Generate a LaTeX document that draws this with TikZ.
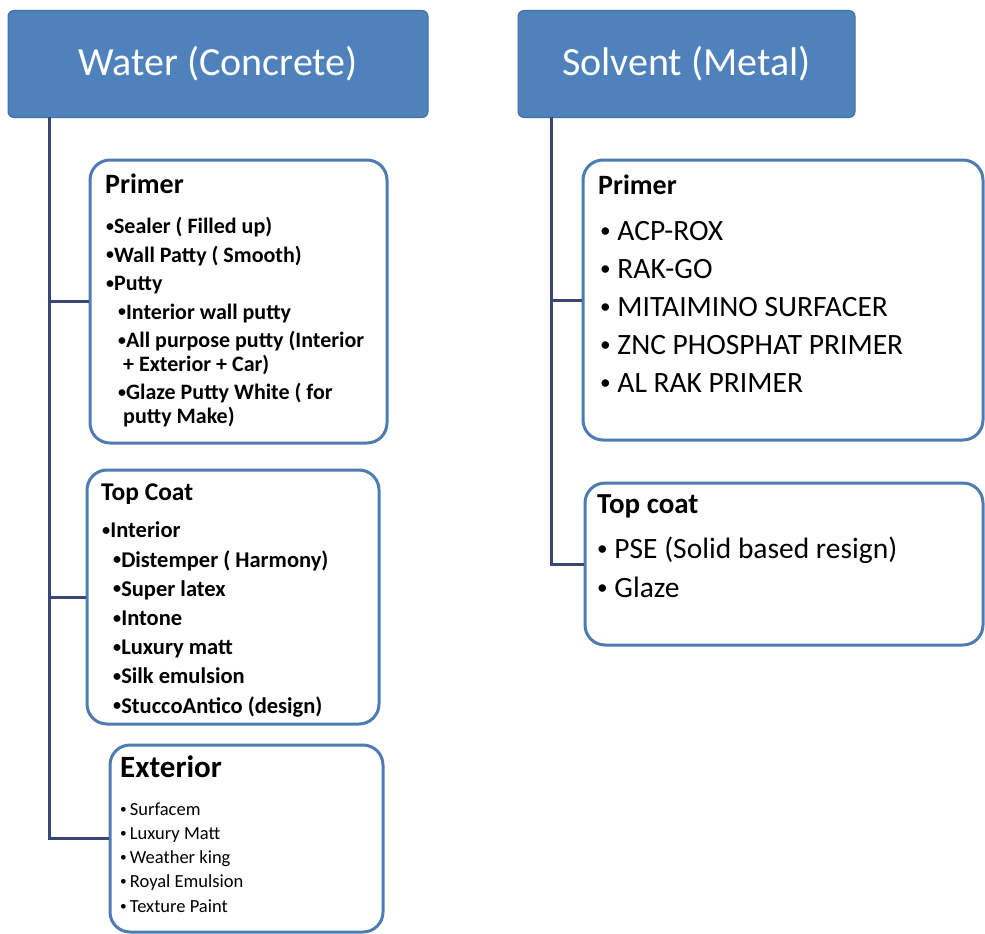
\documentclass[tikz,border=0pt]{standalone}
\usepackage{fontspec}
\setmainfont{Carlito}
\usepackage{graphicx}
\usepackage{tikz}
\usetikzlibrary{calc}
\definecolor{hdrblue}{RGB}{79,129,189}
\definecolor{boxblue}{RGB}{78,124,178}
\definecolor{linenavy}{RGB}{58,70,118}
\newcommand{\dotb}{\raisebox{0.1em}{\scalebox{0.72}{•}}}
\tikzset{
  hdr/.style={shape=rectangle, rounded corners=6pt, minimum height=107pt, inner sep=0pt, fill=hdrblue, draw=hdrblue!85!black, line width=1pt, text=white, font=\fontsize{40}{48}\selectfont},
  box/.style={shape=rectangle, rounded corners=20pt, line width=3pt, draw=boxblue, fill=white},
  link/.style={line width=3pt, draw=linenavy},
  ttl/.style={anchor=base west, inner sep=0pt, font=\bfseries\fontsize{28}{32}\selectfont},
  lst/.style={anchor=base west, inner sep=0pt, align=left},
}

\begin{document}
\begin{tikzpicture}[x=1pt,y=-1pt]
\useasboundingbox (0,0) rectangle (985,934);
\node[hdr, minimum width=420pt] (water) at (218,64) {Water (Concrete)};
\node[hdr, minimum width=337pt] (solvent) at (686.5,64) {Solvent (Metal)};
\node[box, minimum width=297pt, minimum height=283pt] (wprimer) at (238.5,301.5) {};
\node[box, minimum width=292pt, minimum height=254pt] (wtop) at (233,597) {};
\node[box, minimum width=273pt, minimum height=187pt] (wext) at (246.5,838.5) {};
\node[box, minimum width=400pt, minimum height=280pt] (sprimer) at (783,300) {};
\node[box, minimum width=398pt, minimum height=162pt] (stop) at (784,564) {};
\coordinate (wtrunk) at (49,117);
\coordinate (strunk) at (551,117);
\draw[link] (wtrunk) |- (wext.west);
\draw[link] (wtrunk |- wprimer.west) -- (wprimer.west);
\draw[link] (wtrunk |- wtop.west) -- (wtop.west);
\draw[link] (strunk) |- (stop.west);
\draw[link] (strunk |- sprimer.west) -- (sprimer.west);
% list nodes sit on the baseline of their last line
\node[ttl] (wprimer-t) at (105,193) {Primer};
\node[lst, font=\bfseries\fontsize{22}{28.5}\selectfont] (wprimer-l) at (106,423)
  {\dotb Sealer ( Filled up)\\ \dotb Wall Patty ( Smooth)\\ \dotb Putty\\
   \hspace*{12pt}\dotb Interior wall putty\\ \hspace*{12pt}\dotb All purpose putty (Interior\\[-5pt]
   \hspace*{17pt}+ Exterior + Car)\\ \hspace*{12pt}\dotb Glaze Putty White ( for\\[-5pt]
   \hspace*{17pt}putty Make)};
\node[ttl, font=\bfseries\fontsize{25.5}{30}\selectfont] (wtop-t) at (101,500) {Top Coat};
\node[lst, font=\bfseries\fontsize{22.5}{29.2}\selectfont] (wtop-l) at (102,713)
  {\dotb Interior\\ \hspace*{11pt}\dotb Distemper ( Harmony)\\ \hspace*{11pt}\dotb Super latex\\
   \hspace*{11pt}\dotb Intone\\ \hspace*{11pt}\dotb Luxury matt\\ \hspace*{11pt}\dotb Silk emulsion\\
   \hspace*{11pt}\dotb StuccoAntico (design)};
\node[ttl, font=\bfseries\fontsize{31}{36}\selectfont] (wext-t) at (120,777) {Exterior};
\node[lst, font=\fontsize{18.5}{24.2}\selectfont] (wext-l) at (120,912)
  {\dotb\,Surfacem\\ \dotb\,Luxury Matt\\ \dotb\,Weather king\\ \dotb\,Royal Emulsion\\ \dotb\,Texture Paint};
\node[ttl] (sprimer-t) at (598,194) {Primer};
\node[lst, font=\fontsize{29.5}{38}\selectfont] (sprimer-l) at (600,392)
  {\dotb\ ACP-ROX\\ \dotb\ RAK-GO\\ \dotb\ MITAIMINO SURFACER\\ \dotb\ ZNC PHOSPHAT PRIMER\\ \dotb\ AL RAK PRIMER};
\node[ttl, font=\bfseries\fontsize{29}{34}\selectfont] (stop-t) at (597,513) {Top coat};
\node[lst, font=\fontsize{29.5}{39}\selectfont] (stop-l) at (597,597)
  {\dotb\ PSE (Solid based resign)\\ \dotb\ Glaze};
\end{tikzpicture}
\end{document}
